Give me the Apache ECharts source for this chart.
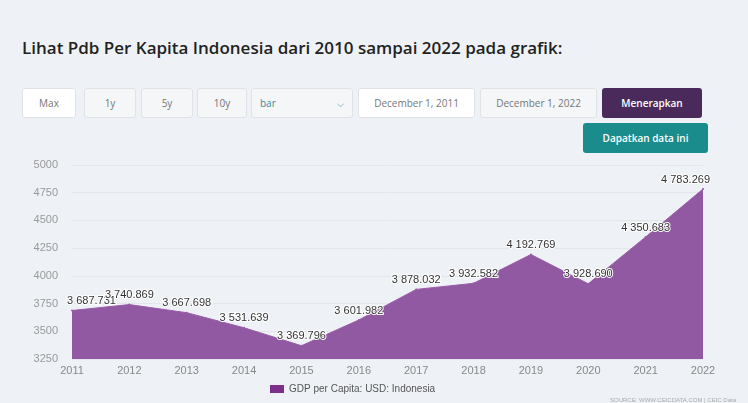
<!DOCTYPE html>
<html lang="id">
<head>
    <meta charset="UTF-8">
    <title>Pdb Per Kapita Indonesia</title>
    <script src="https://cdn.jsdelivr.net/npm/echarts@6/dist/echarts.min.js"></script>
    <style>
        body {
            margin: 0;
            width: 748px;
            height: 403px;
            background: #eef2f6;
            font-family: 'Open Sans', 'Noto Sans', sans-serif;
            position: relative;
            overflow: hidden;
        }
        h2 {
            position: absolute;
            left: 22px;
            top: 36px;
            margin: 0;
            font-size: 17px;
            font-weight: 600;
            color: #222;
        }
        .ctl {
            position: absolute;
            top: 88px;
            height: 30px;
            box-sizing: border-box;
            border: 1px solid #dfe3e8;
            border-radius: 3px;
            background: #f4f6f8;
            color: #777;
            font-size: 10px;
            display: flex;
            align-items: center;
            justify-content: center;
        }
        .white { background: #fff; }
        .dark {
            background: #4a2a5a;
            color: #fff;
            font-weight: 600;
            border: none;
        }
        .teal {
            top: 123px;
            background: #1a8c8c;
            color: #fff;
            font-weight: 600;
            border: none;
        }
        #chart {
            position: absolute;
            left: 0;
            top: 150px;
            width: 748px;
            height: 253px;
        }
    </style>
</head>
<body>
<h2>Lihat Pdb Per Kapita Indonesia dari 2010 sampai 2022 pada grafik:</h2>
<div class="ctl white" style="left:22px;width:54px;">Max</div>
<div class="ctl" style="left:84px;width:52px;">1y</div>
<div class="ctl" style="left:141px;width:52px;">5y</div>
<div class="ctl" style="left:197px;width:50px;">10y</div>
<div class="ctl" style="left:251px;width:102px;justify-content:space-between;padding:0 8px;color:#3a8a9a;">
    <span>bar</span><span style="font-size:9px;color:#3a8a9a;">&#x2335;</span>
</div>
<div class="ctl white" style="left:358px;width:117px;">December 1, 2011</div>
<div class="ctl" style="left:480px;width:117px;">December 1, 2022</div>
<div class="ctl dark" style="left:602px;width:100px;">Menerapkan</div>
<div class="ctl teal" style="left:583px;width:125px;height:30px;">Dapatkan data ini</div>

<div id="chart"></div>
<script type="text/javascript">
    // data
    var years = ['2011', '2012', '2013', '2014', '2015', '2016', '2017', '2018', '2019', '2020', '2021', '2022'];
    var gdpPerCapita = [3687.731, 3740.869, 3667.698, 3531.639, 3369.796, 3601.982, 3878.032, 3932.582, 4192.769, 3928.690, 4350.683, 4783.269];
    var yTicks = [3250, 3500, 3750, 4000, 4250, 4500, 4750, 5000];

    function fmt(v) {
        var parts = v.toFixed(3).split('.');
        return parts[0].replace(/\B(?=(\d{3})+(?!\d))/g, ' ') + '.' + parts[1];
    }

    // label pertama dan terakhir digeser ke dalam area plot
    var seriesData = gdpPerCapita.map(function (v, i) {
        if (i === 0) return { value: v, label: { align: 'left', offset: [-5, 0] } };
        if (i === gdpPerCapita.length - 1) return { value: v, label: { align: 'right', offset: [7, 0] } };
        return v;
    });

    var myChart = echarts.init(document.getElementById('chart'));
    var option = {
        animation: false,
        grid: { left: 72, right: 45, top: 15, bottom: 44 },
        legend: {
            bottom: 4,
            left: 265,
            itemWidth: 14,
            itemHeight: 8,
            itemGap: 4,
            icon: 'rect',
            itemStyle: { color: '#7d2f8c', opacity: 1 },
            textStyle: { color: '#555', fontSize: 10 },
            data: ['GDP per Capita: USD: Indonesia']
        },
        graphic: [{
            type: 'text',
            right: 12,
            bottom: 0,
            style: { text: 'SOURCE: WWW.CEICDATA.COM | CEIC Data', fill: '#aaa', fontSize: 6 }
        }],
        xAxis: {
            type: 'category',
            boundaryGap: false,
            data: years,
            axisLine: { show: false },
            axisTick: { show: false },
            axisLabel: { color: '#888', fontSize: 11, margin: 6 }
        },
        yAxis: {
            type: 'value',
            min: yTicks[0],
            max: yTicks[yTicks.length - 1],
            interval: 250,
            axisLabel: {
                color: '#999',
                fontSize: 11,
                margin: 14,
                formatter: function (v) { return String(v); }
            },
            splitLine: { lineStyle: { color: '#e3e6ea' } }
        },
        series: [{
            name: 'GDP per Capita: USD: Indonesia',
            type: 'line',
            data: seriesData,
            symbol: 'circle',
            symbolSize: 2,
            showSymbol: true,
            itemStyle: { color: '#9a5aa8' },
            lineStyle: { width: 1, color: '#9a5aa8' },
            areaStyle: { color: '#9159a1', opacity: 1 },
            label: {
                show: true,
                position: 'top',
                distance: 3,
                color: '#333',
                fontSize: 11,
                textBorderColor: '#fff',
                textBorderWidth: 2,
                formatter: function (p) { return fmt(p.value); }
            }
        }]
    };
    myChart.setOption(option);
</script>
</body>
</html>
